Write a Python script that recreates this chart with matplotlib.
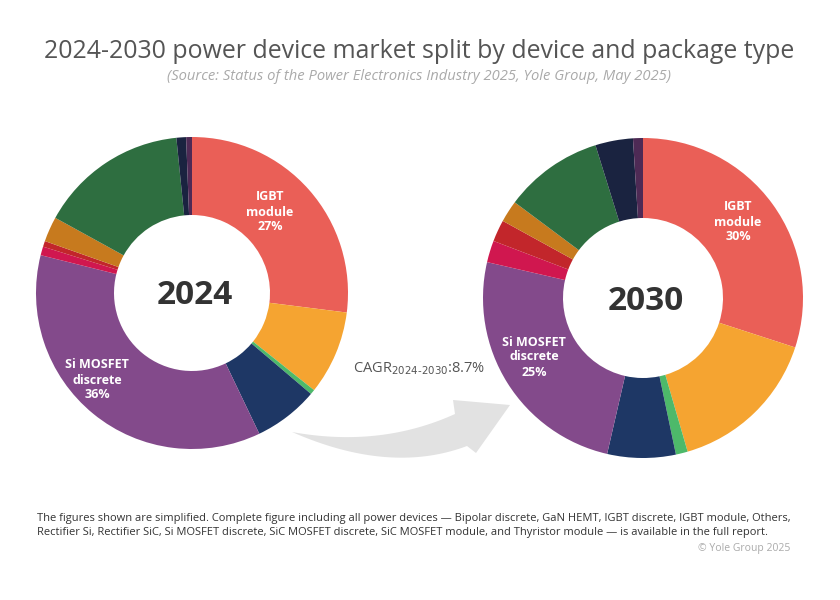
import numpy as np
import matplotlib
matplotlib.use("Agg")
import matplotlib.pyplot as plt
from matplotlib.patches import Polygon

# ---------------- data ----------------
categories = ["IGBT module", "SiC MOSFET module", "GaN HEMT", "IGBT discrete",
              "Si MOSFET discrete", "SiC MOSFET discrete", "Rectifier SiC",
              "Thyristor module", "Rectifier Si", "Bipolar discrete", "Others"]
share_2024 = [27.0, 8.7, 0.5, 6.7, 36.0, 0.9, 0.6, 2.6, 15.4, 1.0, 0.6]
share_2030 = [30.0, 15.5, 1.2, 6.9, 25.0, 2.2, 2.2, 2.2, 10.0, 3.8, 1.0]
colors = ["#EA5F57", "#F5A431", "#4DB96A", "#1E3765", "#834A8B", "#D0174F",
          "#C2262B", "#C77A1E", "#2E6E40", "#1A2340", "#4E2A55"]
labelled = {"IGBT module": "IGBT\nmodule", "Si MOSFET discrete": "Si MOSFET\ndiscrete"}
years = ["2024", "2030"]
cagr_label = "CAGR$_{2024\\text{-}2030}$:8.7%"

plt.rcParams['font.family'] = ['Open Sans', 'DejaVu Sans']

W, H = 840, 600
fig = plt.figure(figsize=(8.4, 6.0), dpi=100)
ax = fig.add_axes([0, 0, 1, 1])
ax.set_xlim(0, W)
ax.set_ylim(0, H)
ax.set_aspect('equal')
ax.axis('off')

def Y(py):
    return H - py

donuts = [
    dict(values=share_2024, center=(192, Y(293)), radius=156, year=years[0],
         label_pos={"IGBT module": (270, 212), "Si MOSFET discrete": (97, 380)}),
    dict(values=share_2030, center=(643, Y(298)), radius=160, year=years[1],
         label_pos={"IGBT module": (738, 222), "Si MOSFET discrete": (534, 357)}),
]

for d in donuts:
    ax.pie(d["values"], colors=colors, startangle=90, counterclock=False,
           center=d["center"], radius=d["radius"],
           wedgeprops=dict(width=d["radius"] * 0.5, linewidth=0),
           frame=True)
    ax.text(d["center"][0] + 3, d["center"][1] - 3, d["year"], ha='center', va='center',
            fontsize=24, fontweight='bold', color='#333333')
    for cat, txt in labelled.items():
        i = categories.index(cat)
        px, py = d["label_pos"][cat]
        ax.text(px, Y(py), f"{txt}\n{d['values'][i]:.0f}%", ha='center', va='center',
                fontsize=9, fontweight='bold', color='white', linespacing=1.2)

ax.set_xlim(0, W)
ax.set_ylim(0, H)
ax.axis('off')

# curved arrow (decoration)
def bez(p0, p1, p2, n=40):
    t = np.linspace(0, 1, n)[:, None]
    p0, p1, p2 = map(np.array, (p0, p1, p2))
    return (1 - t) ** 2 * p0 + 2 * (1 - t) * t * p1 + t ** 2 * p2

upper = bez((292, 432), (380, 448), (455, 414))
lower = bez((467, 446), (390, 475), (292, 432))
head = np.array([(453, 400), (510, 405), (476, 453)])
pts = np.vstack([upper, head, lower])
pts[:, 1] = H - pts[:, 1]
ax.add_patch(Polygon(pts, closed=True, facecolor='#E2E2E2', edgecolor='none', zorder=0))

ax.text(353, Y(369), cagr_label, ha='left', va='center', fontsize=10.5, color='#555555')

# titles
ax.text(419, Y(52), "2024-2030 power device market split by device and package type",
        ha='center', va='center', fontsize=17.9, color='#555555')
ax.text(419, Y(77), "(Source: Status of the Power Electronics Industry 2025, Yole Group, May 2025)",
        ha='center', va='center', fontsize=10.6, color='#AAAAAA', style='italic')

# footer
ax.text(37, Y(518), "The figures shown are simplified. Complete figure including all power devices \u2014 "
        "Bipolar discrete, GaN HEMT, IGBT discrete, IGBT module, Others,",
        ha='left', va='center', fontsize=8.0, color='#333333')
ax.text(37, Y(533), "Rectifier Si, Rectifier SiC, Si MOSFET discrete, SiC MOSFET discrete, "
        "SiC MOSFET module, and Thyristor module \u2014 is available in the full report.",
        ha='left', va='center', fontsize=8.0, color='#333333')
ax.text(790, Y(548), "\u00a9 Yole Group 2025", ha='right', va='center', fontsize=7.5, color='#AAAAAA')

fig.savefig("out.png", dpi=100, facecolor='white')
